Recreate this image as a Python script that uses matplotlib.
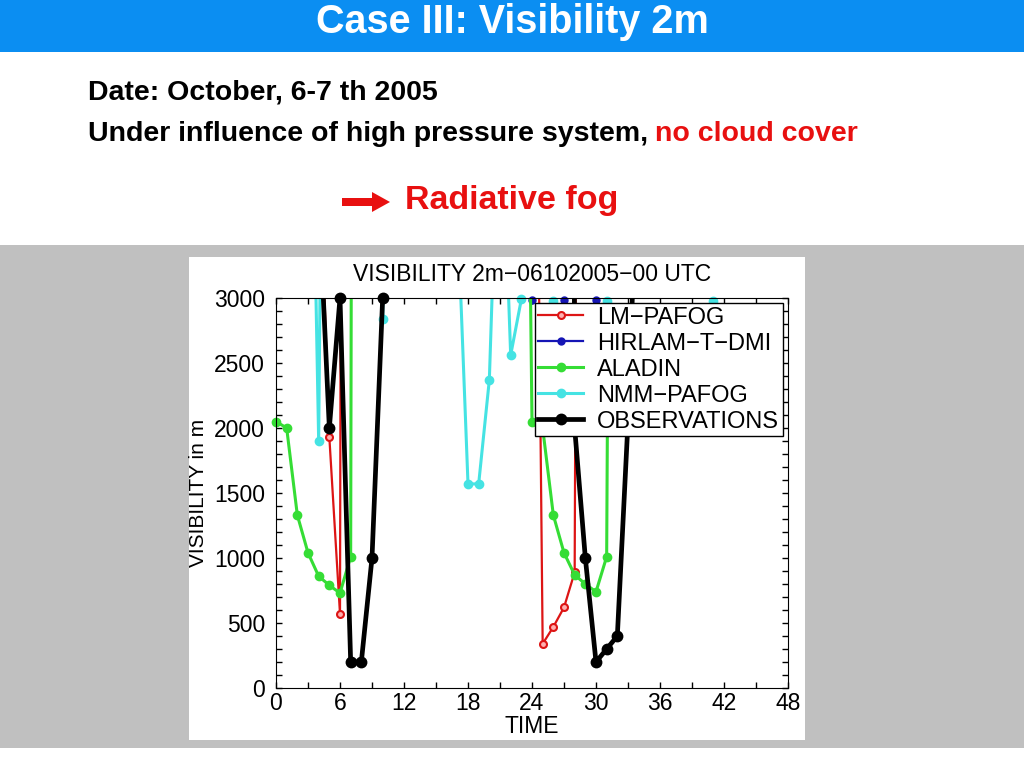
import numpy as np
import matplotlib
matplotlib.use("Agg")
from matplotlib import pyplot as plt
from matplotlib.patches import Rectangle, FancyArrow
from matplotlib.lines import Line2D

plt.rcParams["font.family"] = ["Liberation Sans", "DejaVu Sans"]

# hourly forecast / observation values (m); values above 3000 are off the chart
hours = np.arange(49)
OFF = 40000

lm_pafog = ([OFF] * 4 + [4300, 1930, 570] + [OFF] * 17
            + [8400, 340, 470, 620, 890, 22000] + [OFF] * 19)
hirlam = ([OFF] * 24 + [2985, OFF, OFF, 2985, OFF, OFF, 2985] + [OFF] * 18)
aladin = ([2050, 2000, 1330, 1040, 860, 790, 730, 1010] + [OFF] * 15 + [9000]
          + [2050, 2000, 1330, 1040, 870, 800, 740, 1010, 16000] + [OFF] * 16)
nmm_pafog = ([OFF] * 3 + [6300, 1900, 11000] + [OFF] * 4 + [2840] + [OFF] * 6
             + [3700, 1570, 1570, 2370, 4870, 2560, 2990, OFF, OFF, 2975]
             + [OFF] * 4 + [2980] + [OFF] * 9 + [2975] + [OFF] * 7)
observations = ([OFF] * 4 + [3780, 2000, 3000, 200, 200, 1000, 3000] + [OFF] * 17
                + [2000, 1000, 200, 300, 400, 2050, 4400] + [OFF] * 14)

series = [
    ("LM\u2212PAFOG", lm_pafog, "#dd1515", "#ffb0b0", 1.6, 5),
    ("HIRLAM\u2212T\u2212DMI", hirlam, "#1515b5", "#1515b5", 1.6, 4.5),
    ("ALADIN", aladin, "#35dd35", "#35dd35", 2.2, 5.5),
    ("NMM\u2212PAFOG", nmm_pafog, "#45e3e3", "#45e3e3", 2.2, 5.5),
    ("OBSERVATIONS", observations, "black", "black", 3.4, 7),
]

fig = plt.figure(figsize=(10.24, 7.68), dpi=100)

# slide background drawn in pixel coordinates
bg = fig.add_axes([0, 0, 1, 1])
bg.set_xlim(0, 1024)
bg.set_ylim(768, 0)
bg.axis("off")
bg.add_patch(Rectangle((0, 0), 1024, 52, color="#0b8ef2", lw=0))
bg.add_patch(Rectangle((0, 245), 1024, 503, color="#c0c0c0", lw=0))
bg.add_patch(Rectangle((189, 257), 616, 483, color="white", lw=0))
bg.text(512, 22, "Case III: Visibility 2m", color="white", fontsize=28.5,
        fontweight="bold", ha="center", va="center")
bg.text(88, 93, "Date: October, 6-7 th 2005", fontsize=20.5,
        fontweight="bold", ha="left", va="center")
bg.text(88, 134, "Under influence of high pressure system,", fontsize=20.5,
        fontweight="bold", ha="left", va="center")
bg.text(655, 134, "no cloud cover", fontsize=20.5, color="#e81010",
        fontweight="bold", ha="left", va="center")
bg.add_patch(FancyArrow(342, 202, 48, 0, width=8, head_width=20,
                        head_length=18, length_includes_head=True,
                        color="#e81010", lw=0))
bg.text(405, 201, "Radiative fog", fontsize=24.5, color="#e81010",
        fontweight="bold", ha="left", va="center")

# chart
ax = fig.add_axes([276 / 1024, 80 / 768, 512 / 1024, 390 / 768])
handles = []
for name, vals, col, face, lw, ms in series:
    v = np.array(vals, dtype=float)
    ax.plot(hours, v, color=col, lw=lw, solid_joinstyle="round")
    inside = v <= 3000
    ax.plot(hours[inside], v[inside], ls="none", marker="o", ms=ms,
            mfc=face, mec=col, mew=1.5, clip_on=False)
    handles.append(Line2D([], [], color=col, lw=lw, marker="o", ms=ms,
                          mfc=face, mec=col, mew=1.5, label=name))

ax.set_xlim(0, 48)
ax.set_ylim(0, 3000)
ax.set_xticks(np.arange(0, 49, 6))
ax.set_xticks(np.arange(0, 49, 3), minor=True)
ax.set_yticks(np.arange(0, 3001, 500))
ax.set_yticks(np.arange(0, 3001, 100), minor=True)
ax.tick_params(which="both", direction="in", top=True, right=True,
               length=4, width=1, labelsize=16.5)
ax.tick_params(axis="y", pad=8)
ax.tick_params(axis="x", pad=3)
ax.set_xlabel("TIME", fontsize=16.5, labelpad=0)
ax.set_ylabel("VISIBILITY in m", fontsize=15, labelpad=4)
ax.set_title("VISIBILITY 2m\u221206102005\u221200 UTC", fontsize=16.5, pad=12)

leg = ax.legend(handles=handles, loc="upper right",
                bbox_to_anchor=(0.99, 0.987), fontsize=17,
                fancybox=False, framealpha=1, edgecolor="black",
                handlelength=1.9, handletextpad=0.6, labelspacing=0.17,
                borderpad=0.15, borderaxespad=0)
leg.get_frame().set_linewidth(1)

fig.savefig("out.png", dpi=100)
